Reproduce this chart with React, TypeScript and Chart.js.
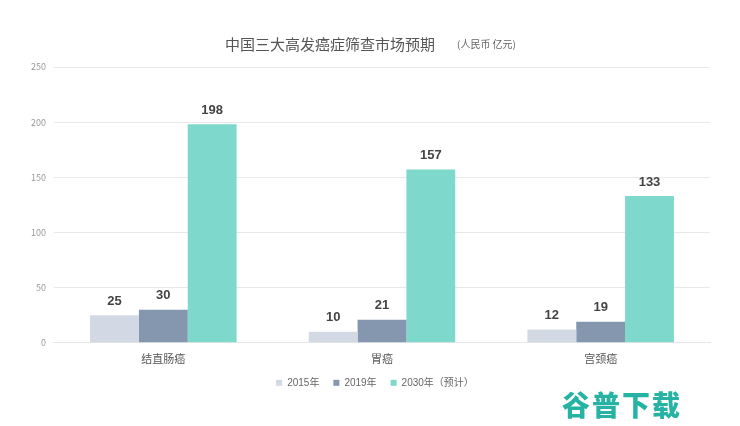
import React, { useEffect, useRef } from "react";
import { Chart, registerables } from "chart.js";

Chart.register(...registerables);

const categories = ["结直肠癌", "胃癌", "宫颈癌"];
const seriesNames = ["2015年", "2019年", "2030年（预计）"];
const values2015 = [25, 10, 12];
const values2019 = [30, 21, 19];
const values2030 = [198, 157, 133];
const yTicks = [0, 50, 100, 150, 200, 250];
const colors = ["#d3d9e4", "#8597af", "#7ed8cb"];

const FONT = "'Noto Sans CJK SC', 'Noto Sans', sans-serif";
const NUM_FONT = "'Liberation Sans', 'Noto Sans CJK SC', sans-serif";

const valueLabels = {
  id: "valueLabels",
  afterDatasetsDraw(chart: any) {
    const ctx = chart.ctx;
    ctx.save();
    ctx.font = `bold 13px ${NUM_FONT}`;
    ctx.fillStyle = "#444";
    ctx.textAlign = "center";
    ctx.textBaseline = "middle";
    chart.data.datasets.forEach((ds: any, i: number) => {
      const meta = chart.getDatasetMeta(i);
      meta.data.forEach((bar: any, j: number) => {
        ctx.fillText(String(ds.data[j]), bar.x, bar.y - 14);
      });
    });
    ctx.restore();
  },
};

const bottomLegend = {
  id: "bottomLegend",
  afterDraw(chart: any) {
    const ctx = chart.ctx;
    const box = 6;
    const gap = 5;
    const itemGap = 14;
    ctx.save();
    ctx.font = `10px ${NUM_FONT}`;
    ctx.textBaseline = "middle";
    ctx.textAlign = "left";
    const items = chart.data.datasets.map((ds: any) => ({
      label: ds.label,
      color: ds.backgroundColor,
      w: box + gap + ctx.measureText(ds.label).width,
    }));
    const total = items.reduce((s: number, it: any) => s + it.w, 0) + itemGap * (items.length - 1);
    let x = chart.width / 2 - total / 2 + 5;
    const y = chart.chartArea.bottom + 40;
    items.forEach((it: any) => {
      ctx.fillStyle = it.color;
      ctx.fillRect(x, y - box / 2, box, box);
      ctx.fillStyle = "#666";
      ctx.fillText(it.label, x + box + gap, y);
      x += it.w + itemGap;
    });
    ctx.restore();
  },
};

export default function App() {
  const ref = useRef<HTMLCanvasElement | null>(null);
  useEffect(() => {
    document.body.style.margin = "0";
    const chart = new Chart(ref.current as HTMLCanvasElement, {
      type: "bar",
      data: {
        labels: categories,
        datasets: [values2015, values2019, values2030].map((d, i) => ({
          label: seriesNames[i],
          data: d,
          backgroundColor: colors[i],
          categoryPercentage: 0.67,
          barPercentage: 1,
        })),
      },
      options: {
        animation: false,
        responsive: false,
        layout: { padding: { top: 67, right: 30, left: 23, bottom: 52 } },
        plugins: {
          title: { display: false },
          tooltip: { enabled: false },
          legend: { display: false },
        },
        scales: {
          x: {
            grid: { display: false, drawTicks: false },
            border: { display: true, color: "#e6e6e6" },
            ticks: { color: "#555", font: { size: 11, family: FONT }, padding: 9 },
          },
          y: {
            min: 0,
            max: 250,
            afterBuildTicks: (axis: any) => {
              axis.ticks = yTicks.map((v) => ({ value: v }));
            },
            grid: { color: "#e8e8e8", drawTicks: false },
            border: { display: false },
            ticks: { color: "#999", font: { size: 9, family: FONT }, padding: 8 },
          },
        },
      },
      plugins: [valueLabels, bottomLegend],
    });
    return () => chart.destroy();
  }, []);
  return (
    <div style={{ position: "fixed", left: 0, top: 0, width: 740, height: 426, background: "#fff", fontFamily: FONT }}>
      <canvas ref={ref} width={740} height={426} style={{ position: "absolute", left: 0, top: 0 }} />
      <div style={{ position: "absolute", left: 225, top: 33, fontSize: 15, color: "#555", whiteSpace: "nowrap", lineHeight: "22px" }}>
        中国三大高发癌症筛查市场预期
      </div>
      <div style={{ position: "absolute", left: 457, top: 37, fontSize: 10, color: "#666", whiteSpace: "nowrap", lineHeight: "14px" }}>
        (人民币 亿元)
      </div>
      <div style={{ position: "absolute", left: 562, top: 387, fontSize: 28, fontWeight: 900, color: "#27b3a3", whiteSpace: "nowrap", lineHeight: "34px", letterSpacing: 2 }}>
        谷普下载
      </div>
    </div>
  );
}
